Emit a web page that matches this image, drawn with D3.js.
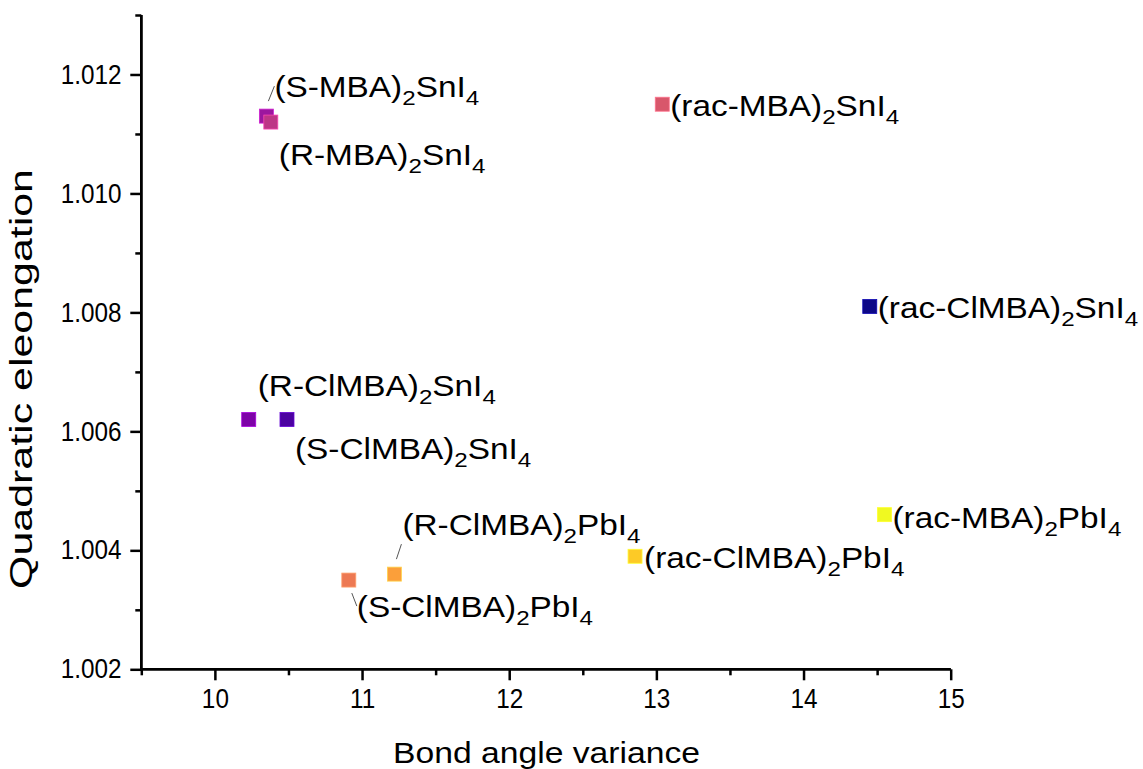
<!DOCTYPE html>
<html><head><meta charset="utf-8">
<script src="https://cdn.jsdelivr.net/npm/d3@7"></script>
<style>body{margin:0;background:#fff}svg{display:block}text{font-family:"Liberation Sans",Arial,sans-serif;fill:#000}</style>
</head><body><svg id="c" width="1143" height="769"></svg>
<script>
// ---- data ----
const cations = ["rac-ClMBA","S-ClMBA","R-ClMBA","S-MBA","R-MBA","rac-MBA","S-ClMBA","R-ClMBA","rac-ClMBA","rac-MBA"];
const metals  = ["Sn","Sn","Sn","Sn","Sn","Sn","Pb","Pb","Pb","Pb"];
const bondAngleVariance = [14.45,10.49,10.23,10.35,10.38,13.04,10.91,11.22,12.855,14.55];
const quadElongation   = [1.0081,1.0062,1.0062,1.0113,1.0112,1.0115,1.0035,1.0036,1.0039,1.0046];
const xTicks = [10,11,12,13,14,15];
const yTicks = [1.002,1.004,1.006,1.008,1.010,1.012];
const xTitle = "Bond angle variance";
const yTitle = "Quadratic eleongation";

// ---- styles / layout ----
const colors = ["#0d0887","#4c02a1","#7e03a8","#9c179e","#bd3786","#d8576b","#ed7953","#fb9f3a","#fdca26","#f0f921"];
const labelOffsets = [[8,12],[8,40],[9,-23],[8,-19],[8,43],[8,12],[8,37],[8,-39],[9,12],[8,13]];
const leaders = {3:[[2,-15],[8,-30]], 7:[[2,-15],[7,-30]], 6:[[3,13],[8,26]]};

const svg = d3.select("#c");
const x = d3.scaleLinear().domain([9.5,15]).range([141.3,950.7]);
const y = d3.scaleLinear().domain([1.002,1.013]).range([669.3,15]);

const xAxis = d3.axisBottom(x).tickValues(xTicks).tickFormat(d3.format("d")).tickSize(11).tickPadding(9);
const xMinor = d3.axisBottom(x).tickValues(d3.range(9.5,15.01,1)).tickFormat("").tickSize(6);
const yAxis = d3.axisLeft(y).tickValues(yTicks).tickFormat(d3.format(".3f")).tickSize(11).tickPadding(11);
const yMinor = d3.axisLeft(y).tickValues(d3.range(1.003,1.0131,0.002)).tickFormat("").tickSize(6);

function styleAxis(g){
  g.attr("font-size",null).attr("font-family",null);
  g.select(".domain").attr("stroke","#000").attr("stroke-width",2.5);
  g.selectAll(".tick line").attr("stroke","#000").attr("stroke-width",2.5);
  g.selectAll(".tick text").style("font-size","27px").attr("fill","#000");
}
const gx = svg.append("g").attr("transform",`translate(0,${y(1.002)})`).call(xMinor).call(styleAxis);
const gx2 = svg.append("g").attr("transform",`translate(0,${y(1.002)})`).call(xAxis).call(styleAxis);
gx2.selectAll(".tick text").attr("transform","scale(0.9,1)");
gx.select(".domain").attr("d",`M${x(9.5)},0H${x(15)}`);
gx2.select(".domain").attr("d",`M${x(9.5)},0H${x(15)}`);
const gy = svg.append("g").attr("transform",`translate(${x(9.5)},0)`).call(yMinor).call(styleAxis);
const gy2 = svg.append("g").attr("transform",`translate(${x(9.5)},0)`).call(yAxis).call(styleAxis);
gy2.selectAll(".tick text").attr("transform","scale(0.9,1)");
gy.select(".domain").attr("d",`M0,${y(1.013)}V${y(1.002)}`);
gy2.select(".domain").attr("d",`M0,${y(1.013)}V${y(1.002)}`);

// titles
svg.append("text").attr("x",546.5).attr("y",763).attr("text-anchor","middle")
  .attr("textLength",307).attr("lengthAdjust","spacingAndGlyphs")
  .style("font-size","29px").text(xTitle);
svg.append("text").attr("transform",`translate(32,379) rotate(-90)`).attr("text-anchor","middle")
  .attr("textLength",420).attr("lengthAdjust","spacingAndGlyphs")
  .style("font-size","31px").text(yTitle);

const data = bondAngleVariance.map((v,i)=>({x:v,y:quadElongation[i],c:cations[i],m:metals[i],i}));

Object.entries(leaders).forEach(([k,seg])=>{
  const d = data[+k];
  svg.append("line").attr("x1",x(d.x)+seg[0][0]).attr("y1",y(d.y)+seg[0][1])
    .attr("x2",x(d.x)+seg[1][0]).attr("y2",y(d.y)+seg[1][1]).attr("stroke","#555").attr("stroke-width",1);
});

const s = 14;
svg.selectAll("rect.pt").data(data).join("rect").attr("class","pt")
  .attr("x",d=>x(d.x)-s/2).attr("y",d=>y(d.y)-s/2).attr("width",s).attr("height",s)
  .attr("fill",d=>colors[d.i]).attr("stroke",d=>d3.color(colors[d.i]).brighter(0.8)).attr("stroke-width",0.8);

const lab = svg.selectAll("text.lab").data(data).join("text").attr("class","lab")
  .attr("transform",d=>`translate(${x(d.x)+labelOffsets[d.i][0]},${y(d.y)+labelOffsets[d.i][1]}) scale(1.15,1)`)
  .style("font-size","29px");
lab.each(function(d){
  const t = d3.select(this);
  t.append("tspan").text(`(${d.c})`);
  t.append("tspan").attr("dy",8).style("font-size","21px").text("2");
  t.append("tspan").attr("dy",-8).text(`${d.m}I`);
  t.append("tspan").attr("dy",8).style("font-size","21px").text("4");
});
</script></body></html>
